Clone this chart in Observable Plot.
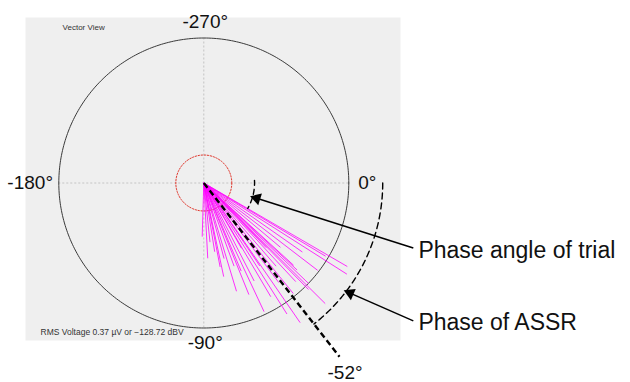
<!DOCTYPE html>
<html>
<head>
<meta charset="utf-8">
<script src="https://cdn.jsdelivr.net/npm/d3@7"></script>
<script src="https://cdn.jsdelivr.net/npm/@observablehq/plot@0.6"></script>
<style>
  html, body { margin: 0; padding: 0; background: #fff; }
  #chart svg { display: block; font-family: "Liberation Sans", Arial, sans-serif; }
</style>
</head>
<body>
<div id="chart"></div>
<script>
// ---- data (outer circle radius = 1) ----
const trialAngles = [-30.2, -31, -32.5, -35, -37.5, -40, -42.5, -43, -43.8, -44.8, -45.5, -46, -47, -49, -51, -53, -55.4, -56, -57.6, -59.5, -60, -62.8, -64.9, -67, -68, -70, -73.2, -75, -78, -79, -81, -84, -87, -91.7];
const trialLengths = [1.145, 0.98, 1.17, 0.83, 0.99, 0.69, 0.84, 0.88, 1.0, 1.18, 1.03, 0.62, 0.93, 0.76, 0.98, 0.86, 1.17, 0.69, 1.07, 0.91, 0.52, 0.76, 0.98, 0.66, 0.83, 0.61, 0.78, 0.54, 0.66, 0.59, 0.48, 0.41, 0.52, 0.37];
const assrPhase = -52;
const noiseRadius = 0.193;
const trialArc = [3, -30];
const degreeTicks = [0, -90, -180, -270];
const degreeLabels = ["0°", "-90°", "-180°", "-270°"];
const annotLabels = ["Phase angle of trial", "Phase of ASSR"];
const headerText = "Vector View";
const footerText = "RMS Voltage 0.37 µV or −128.72 dBV";

// ---- helpers ----
const rad = d => d * Math.PI / 180;
const arcPts = (r, a0, a1, n = 180) =>
  d3.range(n + 1).map(i => { const a = rad(a0 + (a1 - a0) * i / n); return {x: r * Math.cos(a), y: r * Math.sin(a)}; });

const trials = trialAngles.map((a, i) => ({x2: trialLengths[i] * Math.cos(rad(a)), y2: trialLengths[i] * Math.sin(rad(a))}));

const degPos = degreeTicks.map((a, i) => {
  const c = Math.round(Math.cos(rad(a))), s = Math.round(Math.sin(rad(a)));
  return {
    text: degreeLabels[i],
    x: c === 0 ? 0.01 : c * (c > 0 ? 1.065 : 1.04),
    y: s === 0 ? 0 : s * (s > 0 ? 1.114 : 1.1),
    anchor: c > 0 ? "start" : c < 0 ? "end" : "middle"
  };
});

// annotation arrows: tip on arcs, tail beside the label
const smallArcR = 0.35, bigArcR = 1.234;
const tips = [
  {x: smallArcR * Math.cos(rad(-16)), y: smallArcR * Math.sin(rad(-16))},
  {x: bigArcR * Math.cos(rad(-37.3)), y: bigArcR * Math.sin(rad(-37.3))}
];
const labelPos = [{x: 1.48, y: -0.463}, {x: 1.48, y: -0.966}];
const arrows = tips.map((t, i) => {
  const tail = {x: labelPos[i].x - 0.035, y: labelPos[i].y + 0.015};
  const dx = t.x - tail.x, dy = t.y - tail.y, L = Math.hypot(dx, dy);
  const off = 0.03;
  return {
    x1: tail.x, y1: tail.y, x2: t.x, y2: t.y,
    hx: t.x - dx / L * off, hy: t.y - dy / L * off,
    rot: Math.atan2(-dy, dx) * 180 / Math.PI + 90
  };
});

const assrLen = 1.52;
const assrLine = [{x2: assrLen * Math.cos(rad(assrPhase)), y2: assrLen * Math.sin(rad(assrPhase))}];
const assrLabel = [{text: `${assrPhase}°`, x: 1.63 * Math.cos(rad(-53.3)), y: 1.63 * Math.sin(rad(-53.3))}];

const degText = anchor => Plot.text(degPos.filter(d => d.anchor === anchor),
  {x: "x", y: "y", text: "text", textAnchor: anchor, fontSize: 19, fill: "#111"});

const chart = Plot.plot({
  width: 630,
  height: 382,
  marginLeft: 25,
  marginRight: 230,
  marginTop: 17,
  marginBottom: 42,
  x: {domain: [-1.2297, 1.3566], axis: null},
  y: {domain: [-1.0862, 1.1414], axis: null},
  style: {background: "#ffffff", fontFamily: "Liberation Sans, Arial, sans-serif"},
  marks: [
    Plot.frame({fill: "#efefef", stroke: "none"}),
    Plot.ruleY([0], {x1: -1, x2: 1, stroke: "#c4c4c4", strokeDasharray: "2,2", strokeWidth: 1}),
    Plot.ruleX([0], {y1: -1, y2: 1, stroke: "#c4c4c4", strokeDasharray: "2,2", strokeWidth: 1}),
    Plot.line(arcPts(1, 0, 360, 360), {x: "x", y: "y", stroke: "#3a3a3a", strokeWidth: 1}),
    Plot.line(arcPts(noiseRadius, 0, 360, 120), {x: "x", y: "y", stroke: "#e0382e", strokeWidth: 1, strokeDasharray: "1.5,1.5"}),
    Plot.link(trials, {x1: 0, y1: 0, x2: "x2", y2: "y2", stroke: "#ff00ff", strokeWidth: 0.9, strokeOpacity: 0.9}),
    Plot.link(assrLine, {x1: 0, y1: 0, x2: "x2", y2: "y2", stroke: "#000", strokeWidth: 2.4, strokeDasharray: "6,3.5"}),
    Plot.line(arcPts(smallArcR, trialArc[0], trialArc[1], 40), {x: "x", y: "y", stroke: "#000", strokeWidth: 1.4, strokeDasharray: "5,4"}),
    Plot.line(arcPts(bigArcR, 0, assrPhase, 120), {x: "x", y: "y", stroke: "#000", strokeWidth: 1.4, strokeDasharray: "6,4"}),
    Plot.link(arrows, {x1: "x1", y1: "y1", x2: "hx", y2: "hy", stroke: "#000", strokeWidth: 1.5}),
    Plot.dot(arrows, {x: "hx", y: "hy", symbol: "triangle", r: 4.5, fill: "#000", stroke: "none", rotate: "rot"}),
    degText("start"),
    degText("middle"),
    degText("end"),
    Plot.text(assrLabel, {x: "x", y: "y", text: "text", fontSize: 19, fill: "#111"}),
    Plot.text(annotLabels, {x: labelPos.map(d => d.x), y: labelPos.map(d => d.y), text: d => d, textAnchor: "start", fontSize: 23, fill: "#111"}),
    Plot.text([headerText], {x: -0.974, y: 1.076, text: d => d, textAnchor: "start", fontSize: 8, fill: "#333"}),
    Plot.text([footerText], {x: -1.126, y: -1.031, text: d => d, textAnchor: "start", fontSize: 8.5, fill: "#333"})
  ]
});
document.getElementById("chart").appendChild(chart);
</script>
</body>
</html>
